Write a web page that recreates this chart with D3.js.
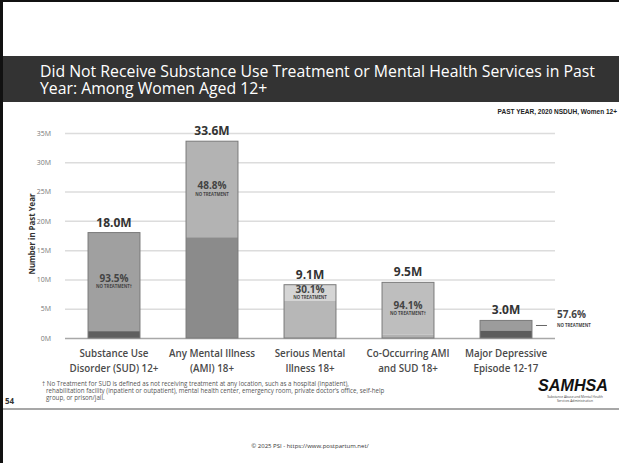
<!DOCTYPE html>
<html>
<head>
<meta charset="utf-8">
<script src="https://cdn.jsdelivr.net/npm/d3@7"></script>
<style>
  body { margin: 0; background: #fff; }
  svg { display: block; }
</style>
</head>
<body>
<div id="chart"></div>
<script>
// chart data
var categories = ["SUD", "AMI", "SMI", "COAMI", "MDE"];
var categoryLines = [
    ["Substance Use", "Disorder (SUD) 12+"],
    ["Any Mental Illness", "(AMI) 18+"],
    ["Serious Mental", "Illness 18+"],
    ["Co-Occurring AMI", "and SUD 18+"],
    ["Major Depressive", "Episode 12-17"]
];
var totals = [18.0, 33.6, 9.1, 9.5, 3.0];           // millions
var noTreatmentPct = [93.5, 48.8, 30.1, 94.1, 57.6];
var footMark = ["\u2020", "", "", "\u2020", ""];
var yTicks = [0, 5, 10, 15, 20, 25, 30, 35];
var topColors = ["#a0a0a0", "#b3b3b3", "#d5d5d5", "#bebebe", "#9c9c9c"];
var bottomColors = ["#5f5f5f", "#8b8b8b", "#b7b7b7", "#b1b1b1", "#5c5c5c"];

var footnote = [
    "\u2020 No Treatment for SUD is defined as not receiving treatment at any location, such as a hospital (inpatient),",
    "rehabilitation facility (inpatient or outpatient), mental health center, emergency room, private doctor\u2019s office, self-help",
    "group, or prison/jail."
];

var W = 619, H = 463;
var svg = d3.select("#chart").append("svg")
    .attr("width", W)
    .attr("height", H);

var font = "'Open Sans', sans-serif";

// frame
svg.append("rect").attr("x", 0).attr("y", 0).attr("width", 3).attr("height", H).attr("fill", "#111");
svg.append("rect").attr("x", 0).attr("y", 0).attr("width", W).attr("height", 2).attr("fill", "#111");

// title band
svg.append("rect").attr("x", 3).attr("y", 56).attr("width", W - 3).attr("height", 46).attr("fill", "#333333");
var title = svg.append("text")
    .attr("font-family", font)
    .attr("font-size", 15.8)
    .attr("fill", "#fff");
title.append("tspan").attr("x", 40).attr("y", 77)
    .text("Did Not Receive Substance Use Treatment or Mental Health Services in Past");
title.append("tspan").attr("x", 40).attr("y", 94)
    .text("Year: Among Women Aged 12+");

svg.append("text")
    .attr("x", 617).attr("y", 114)
    .attr("text-anchor", "end")
    .attr("font-family", "'Liberation Sans Narrow', 'Liberation Sans', sans-serif")
    .attr("font-weight", "bold")
    .attr("font-size", 6.5)
    .attr("fill", "#222")
    .text("PAST YEAR, 2020 NSDUH, Women 12+");

// scales
var x = d3.scaleBand()
    .domain(categories)
    .range([65, 555])
    .paddingInner(0.47)
    .paddingOuter(0.235);

var y = d3.scaleLinear()
    .domain([0, 35])
    .range([338, 133]);

// y axis with gridlines
var yAxis = svg.append("g")
    .attr("transform", "translate(65,0)")
    .call(d3.axisLeft(y)
        .tickValues(yTicks)
        .tickSize(-(555 - 65))
        .tickPadding(14)
        .tickFormat(function(d) { return d + "M"; }));
yAxis.select(".domain").remove();
yAxis.selectAll(".tick line")
    .attr("stroke", function(d) { return d === 0 ? "#a8a8a8" : "#dcdcdc"; })
    .attr("stroke-width", 1.5);
yAxis.selectAll(".tick text")
    .attr("font-family", font)
    .attr("font-size", 7)
    .attr("fill", "#777");

svg.append("text")
    .attr("transform", "translate(35,234) rotate(-90)")
    .attr("text-anchor", "middle")
    .attr("font-family", font)
    .attr("font-weight", "bold")
    .attr("font-size", 9.5)
    .attr("textLength", 81)
    .attr("lengthAdjust", "spacingAndGlyphs")
    .attr("fill", "#333")
    .text("Number in Past Year");

// bars
var rows = categories.map(function(c, i) {
    return {
        key: c,
        total: totals[i],
        pct: noTreatmentPct[i],
        treated: totals[i] * (1 - noTreatmentPct[i] / 100),
        i: i
    };
});

var bar = svg.append("g").selectAll("g")
    .data(rows)
    .enter().append("g");

bar.append("rect")
    .attr("x", function(d) { return x(d.key); })
    .attr("y", function(d) { return y(d.total); })
    .attr("width", x.bandwidth())
    .attr("height", function(d) { return y(d.treated) - y(d.total); })
    .attr("fill", function(d) { return topColors[d.i]; });

bar.append("rect")
    .attr("x", function(d) { return x(d.key); })
    .attr("y", function(d) { return y(d.treated); })
    .attr("width", x.bandwidth())
    .attr("height", function(d) { return y(0) - y(d.treated); })
    .attr("fill", function(d) { return bottomColors[d.i]; });

bar.append("rect")
    .attr("x", function(d) { return x(d.key); })
    .attr("y", function(d) { return y(d.total); })
    .attr("width", x.bandwidth())
    .attr("height", function(d) { return y(0) - y(d.total); })
    .attr("fill", "none")
    .attr("stroke", "#7a7a7a")
    .attr("stroke-width", 1);

// total labels
bar.append("text")
    .attr("x", function(d) { return x(d.key) + x.bandwidth() / 2; })
    .attr("y", function(d) { return y(d.total) - 6; })
    .attr("text-anchor", "middle")
    .attr("font-family", font)
    .attr("font-weight", "bold")
    .attr("font-size", 12)
    .attr("fill", "#333")
    .text(function(d) { return d.total.toFixed(1) + "M"; });

// no-treatment labels
function labelX(d) {
    return d.key === "MDE" ? x(d.key) + x.bandwidth() + 25 : x(d.key) + x.bandwidth() / 2;
}
function labelMid(d) {
    return (y(d.total) + y(d.treated)) / 2;
}

bar.append("text")
    .attr("x", labelX)
    .attr("y", function(d) { return d.key === "MDE" ? labelMid(d) - 7 : labelMid(d); })
    .attr("text-anchor", function(d) { return d.key === "MDE" ? "start" : "middle"; })
    .attr("font-family", font)
    .attr("font-weight", "bold")
    .attr("font-size", 10)
    .attr("fill", "#444")
    .text(function(d) { return d.pct.toFixed(1) + "%"; });

bar.append("text")
    .attr("x", labelX)
    .attr("y", function(d) { return d.key === "MDE" ? labelMid(d) + 1.5 : labelMid(d) + 6.5; })
    .attr("text-anchor", function(d) { return d.key === "MDE" ? "start" : "middle"; })
    .attr("font-family", font)
    .attr("font-weight", "bold")
    .attr("font-size", 4.3)
    .attr("fill", "#444")
    .text(function(d) { return "NO TREATMENT" + footMark[d.i]; });

// leader line for the small bar
bar.filter(function(d) { return d.key === "MDE"; })
    .append("line")
    .attr("x1", function(d) { return x(d.key) + x.bandwidth() + 4; })
    .attr("x2", function(d) { return x(d.key) + x.bandwidth() + 15; })
    .attr("y1", labelMid)
    .attr("y2", labelMid)
    .attr("stroke", "#666")
    .attr("stroke-width", 1);

// category labels
var cat = svg.append("g").selectAll("text")
    .data(categories)
    .enter().append("text")
    .attr("text-anchor", "middle")
    .attr("font-family", font)
    .attr("font-weight", 600)
    .attr("font-size", 9.8)
    .attr("fill", "#4a4a4a");
cat.each(function(c, i) {
    var t = d3.select(this);
    categoryLines[i].forEach(function(line, k) {
        t.append("tspan")
            .attr("x", x(c) + x.bandwidth() / 2)
            .attr("y", 357 + k * 15)
            .text(line);
    });
});

// footnote
svg.append("g").selectAll("text")
    .data(footnote)
    .enter().append("text")
    .attr("x", function(d, i) { return i === 0 ? 42 : 46; })
    .attr("y", function(d, i) { return 386 + i * 7.2; })
    .attr("font-family", font)
    .attr("font-size", 6.2)
    .attr("fill", "#555")
    .text(function(d) { return d; });

svg.append("text")
    .attr("x", 5).attr("y", 404)
    .attr("font-family", font)
    .attr("font-weight", "bold")
    .attr("font-size", 8)
    .attr("fill", "#333")
    .text("54");

// logo text
svg.append("text")
    .attr("x", 538).attr("y", 391)
    .attr("font-family", "'Liberation Sans', Arial, sans-serif")
    .attr("font-weight", "bold")
    .attr("font-style", "italic")
    .attr("font-size", 17)
    .attr("textLength", 70)
    .attr("lengthAdjust", "spacingAndGlyphs")
    .attr("fill", "#111")
    .text("SAMHSA");
svg.append("text")
    .attr("x", 575).attr("y", 397.5)
    .attr("text-anchor", "middle")
    .attr("font-family", font)
    .attr("font-size", 3.3)
    .attr("fill", "#444")
    .text("Substance Abuse and Mental Health");
svg.append("text")
    .attr("x", 575).attr("y", 401.5)
    .attr("text-anchor", "middle")
    .attr("font-family", font)
    .attr("font-size", 3.3)
    .attr("fill", "#444")
    .text("Services Administration");

// footer rule and credit
svg.append("line")
    .attr("x1", 3).attr("x2", W)
    .attr("y1", 409).attr("y2", 409)
    .attr("stroke", "#8a8a8a")
    .attr("stroke-width", 1.5);

svg.append("text")
    .attr("x", 310).attr("y", 448)
    .attr("text-anchor", "middle")
    .attr("font-family", font)
    .attr("font-size", 6)
    .attr("fill", "#333")
    .text("\u00a9 2025 PSI - https://www.postpartum.net/");
</script>
</body>
</html>
